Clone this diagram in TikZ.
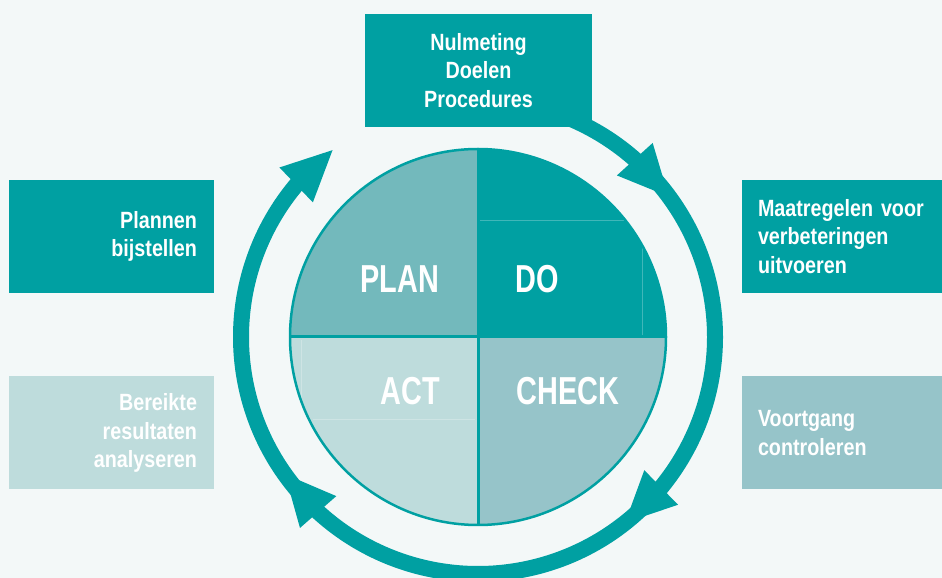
\documentclass[tikz,border=0pt]{standalone}
\usepackage{fontspec}
\usetikzlibrary{arrows.meta}
\usetikzlibrary{bending}
\newfontfamily\boxfont[FakeStretch=0.84]{Liberation Sans}
\newfontfamily\stagefont[FakeStretch=0.74]{Liberation Sans}
\definecolor{custom-bg}{RGB}{243, 248, 248}
\definecolor{custom-teal}{RGB}{0, 160, 162}
\definecolor{custom-plan}{RGB}{115, 185, 188}
\definecolor{custom-act}{RGB}{190, 220, 220}
\definecolor{custom-check}{RGB}{150, 196, 201}
\tikzset{
  info-box/.style={fill=#1, text=white, minimum height=113pt, inner xsep=17pt,
    font=\boxfont\bfseries\fontsize{23.5}{28.5}\selectfont},
  stage/.style={text=white, font=\stagefont\bfseries\fontsize{39}{39}\selectfont},
  ring-arrow/.style={draw=custom-teal, line width=16pt, -{Triangle[length=52pt, width=44pt]}}
}
\begin{document}
\begin{tikzpicture}[x=1pt, y=1pt]
\useasboundingbox (0,0) rectangle (942,578);
\clip (0,0) rectangle (942,578);
\fill[custom-bg] (0,0) rectangle (942,578);
\coordinate (hub) at (478,241);

% ring
\begin{scope}[shift={(hub)}]
\draw[ring-arrow] (75:237) arc[start angle=75, end angle=36, radius=237];
\draw[ring-arrow] (42:237) arc[start angle=42, end angle=-52, radius=237];
\draw[ring-arrow] (-46:237) arc[start angle=-46, end angle=-145, radius=237];
\draw[ring-arrow] (221:237) arc[start angle=221, end angle=127.5, radius=237];
\end{scope}

% quarters
\fill[custom-plan] (hub) -- ++(180:188) arc[start angle=180, end angle=90, radius=188] -- cycle;
\fill[custom-teal] (hub) -- ++(90:188) arc[start angle=90, end angle=0, radius=188] -- cycle;
\fill[custom-check] (hub) -- ++(0:188) arc[start angle=0, end angle=-90, radius=188] -- cycle;
\fill[custom-act] (hub) -- ++(-90:188) arc[start angle=-90, end angle=-180, radius=188] -- cycle;
\draw[white, opacity=0.25, line width=1pt] (480,357) -- (625,357);
\draw[white, opacity=0.25, line width=1pt] (642,331) -- (642,243);
\draw[white, opacity=0.25, line width=1pt] (313,158) -- (475,158);
\draw[white, opacity=0.25, line width=1pt] (301,238) -- (301,158);
\draw[custom-teal, line width=3pt] ([xshift=-188pt]hub) -- ([xshift=188pt]hub);
\draw[custom-teal, line width=3pt] ([yshift=-188pt]hub) -- ([yshift=188pt]hub);
\draw[custom-teal, line width=2.5pt] (hub) circle[radius=188];

\node[stage] (plan) at (400,299) {PLAN};
\node[stage] (do) at (537,299) {DO};
\node[stage] (act) at (410,187) {ACT};
\node[stage] (check) at (568,187) {CHECK};

% boxes
\node[info-box=custom-teal, text width=193pt, align=center] (nulmeting) at (478.5,507.5)
  {Nulmeting\\Doelen\\Procedures};
\node[info-box=custom-teal, text width=171pt, align=right] (plannen) at (111.5,341.5)
  {Plannen\\bijstellen};
\node[info-box=custom-act, text width=171pt, align=right] (bereikte) at (111.5,145)
  {Bereikte\\resultaten\\analyseren};
\node[info-box=custom-teal, text width=186pt, inner xsep=16pt, align=left] (maatregelen) at (851,341.5)
  {Maatregelen voor\\verbeteringen\\uitvoeren};
\node[info-box=custom-check, text width=186pt, inner xsep=16pt, align=left] (voortgang) at (851,145)
  {Voortgang\\controleren};
\end{tikzpicture}
\end{document}
